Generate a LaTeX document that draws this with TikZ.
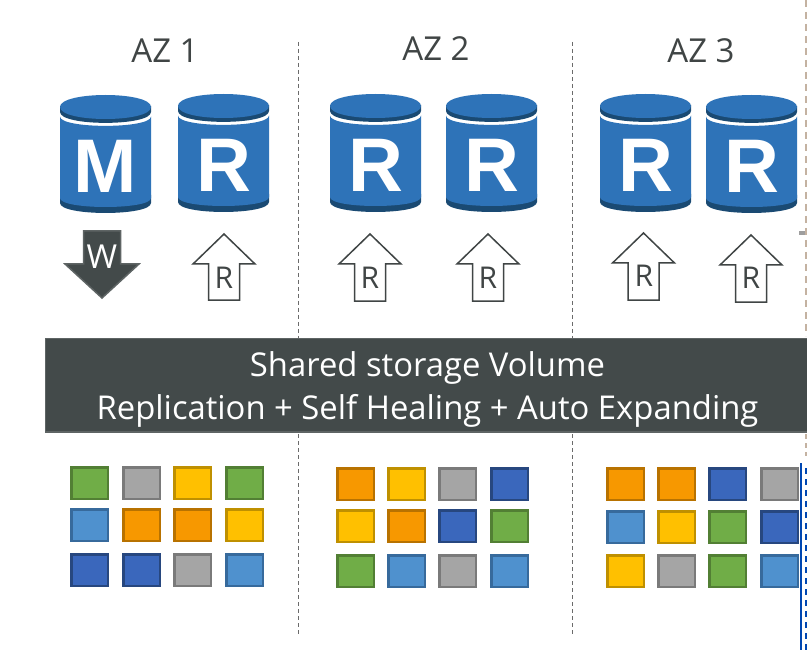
\documentclass[tikz,border=0pt]{standalone}
\usepackage{fontspec}
\setmainfont{Open Sans}
\newfontfamily\dbfont{Liberation Sans}[BoldFont={Liberation Sans Bold}]
\definecolor{dbblue}{HTML}{2E73B8}
\definecolor{dbdark}{HTML}{1A4A73}
\definecolor{slate}{HTML}{434A4A}
\definecolor{slateedge}{HTML}{5E6464}
\definecolor{labeltext}{HTML}{404545}
\tikzset{
  azlabel/.style={text=labeltext,font=\fontsize{33}{38}\selectfont,anchor=base,inner sep=0},
  dbletter/.style={text=white,font=\dbfont\bfseries\fontsize{76}{80}\selectfont,anchor=base,inner sep=0},
  arrowletter/.style={text=labeltext,font=\fontsize{30}{34}\selectfont,anchor=base,inner sep=0},
  azdiv/.style={draw=black!58,line width=1pt,dash pattern=on 4pt off 3pt},
  outlinearrow/.style={draw=labeltext,fill=white,line width=1.5pt,line join=miter},
  solidarrow/.style={draw=slateedge,fill=slate,line width=1.5pt,line join=miter},
  bandbox/.style={draw=slateedge,fill=slate,line width=1.5pt,minimum width=763.5pt,minimum height=93.5pt,inner sep=0},
  bandtext/.style={text=white,font=\fontsize{32.8}{43}\selectfont,align=center,inner sep=0},
  sqbox/.style={minimum width=36.5pt,minimum height=31.5pt,inner sep=0,line width=2.5pt,anchor=north west},
  sqG/.style={sqbox,fill=HG,draw=EG},
  sqA/.style={sqbox,fill=HA,draw=EA},
  sqY/.style={sqbox,fill=HY,draw=EY},
  sqO/.style={sqbox,fill=HO,draw=EO},
  sqL/.style={sqbox,fill=HL,draw=EL},
  sqD/.style={sqbox,fill=HD,draw=ED},
}
\definecolor{HG}{HTML}{70AD47}\definecolor{EG}{HTML}{527F34}
\definecolor{HA}{HTML}{A5A5A5}\definecolor{EA}{HTML}{7A7A7A}
\definecolor{HY}{HTML}{FFC000}\definecolor{EY}{HTML}{BF9000}
\definecolor{HO}{HTML}{F79800}\definecolor{EO}{HTML}{B87200}
\definecolor{HL}{HTML}{4F91CE}\definecolor{EL}{HTML}{376A9C}
\definecolor{HD}{HTML}{3A67BC}\definecolor{ED}{HTML}{27477F}
% name, left x, top y, letter
\newcommand{\dbcyl}[4]{%
  \begin{scope}[shift={(#2,#3)}]
    \fill[dbdark] (0,100) -- (0,108) .. controls (0,121.3) and (91,121.3) .. (91,108) -- (91,100) -- cycle;
    \fill[dbblue] (0,21.5) .. controls (0,34) and (91,34) .. (91,21.5) -- (91,103) .. controls (91,115) and (0,115) .. (0,103) -- cycle;
    \fill[dbdark] (0,11) -- (0,17) .. controls (0,31.5) and (91,31.5) .. (91,17) -- (91,11) -- cycle;
    \fill[dbblue] (0,12) .. controls (0,-4) and (91,-4) .. (91,12) .. controls (91,28) and (0,28) .. (0,12) -- cycle;
    \node[dbletter] (#1) at (45.5,98) {#4};
  \end{scope}}
% name, tip x, tip y, bottom y, letter centre x, letter baseline
\newcommand{\readarrow}[6]{%
  \draw[outlinearrow] (#2,#3) -- (#2+31,#3+30) -- (#2+15.5,#3+30) -- (#2+15.5,#4)
    -- (#2-15.5,#4) -- (#2-15.5,#3+30) -- (#2-31,#3+30) -- cycle;
  \node[arrowletter] (#1) at (#5,#6) {R};}
\begin{document}
\begin{tikzpicture}[x=1pt,y=-1pt]
\useasboundingbox (0,0) rectangle (807,650);
\fill[white] (0,0) rectangle (807,650);

% zone dividers
\coordinate (d1a) at (298.5,42);  \coordinate (d1b) at (298.5,636);
\coordinate (d2a) at (572.7,42);  \coordinate (d2b) at (572.7,636);
\draw[azdiv] (d1a) -- (d1b);
\draw[azdiv] (d2a) -- (d2b);

% headings
\node[azlabel] (az1) at (165,63) {AZ 1};
\node[azlabel] (az2) at (436,61) {AZ 2};
\node[azlabel] (az3) at (701,63) {AZ 3};

% databases
\dbcyl{m1}{60}{95}{M}
\dbcyl{r1}{178}{94}{R}
\dbcyl{r2}{330}{94}{R}
\dbcyl{r3}{446}{94}{R}
\dbcyl{r4}{600}{94}{R}
\dbcyl{r5}{706}{95}{R}

% write arrow
\draw[solidarrow] (102,298) -- (65,264) -- (83.5,264) -- (83.5,231) -- (120.5,231) -- (120.5,264) -- (139,264) -- cycle;
\node[arrowletter,text=white,font=\fontsize{33}{36}\selectfont] (w) at (102,269) {W};

% read arrows
\readarrow{a1}{224}{234}{300}{224}{288}
\readarrow{a2}{370}{234}{301}{370}{288}
\readarrow{a3}{488}{234}{301}{488}{288}
\readarrow{a4}{643.5}{233}{300}{644}{287}
\readarrow{a5}{751}{235}{302}{751}{288}

% band
\node[bandbox] (band) at (427.25,385.25) {};
\node[bandtext] (bandlabel) at (427.5,389) {Shared storage Volume\\Replication + Self Healing + Auto Expanding};

% storage blocks
\foreach \nm/\px/\py/\kd in {
  b1/70/466/G,b2/122/466/A,b3/173/466/Y,b4/225/466/G,
  b5/70/508/L,b6/122/508/O,b7/173/508/O,b8/225/508/Y,
  b9/70/553/D,b10/122/553/D,b11/173/553/A,b12/225/553/L,
  c1/336/467/O,c2/387/467/Y,c3/438/467/A,c4/490/467/D,
  c5/336/509/Y,c6/387/509/O,c7/438/509/D,c8/490/509/G,
  c9/336/554/G,c10/387/554/L,c11/438/554/A,c12/490/554/L,
  e1/606/467/O,e2/657/467/O,e3/708/467/D,e4/760/467/A,
  e5/606/510/L,e6/657/510/Y,e7/708/510/G,e8/760/510/D,
  e9/606/554/Y,e10/657/554/A,e11/708/554/G,e12/760/554/L}{
  \node[sq\kd] (\nm) at (\px,\py) {};
}

% clipped fragments at the right edge
\fill[black!38] (799,231) rectangle (807,235);
\draw[draw=brown!45!gray!60,line width=2pt,dash pattern=on 7pt off 5pt] (806.2,0) -- (806.2,336);
\draw[draw=brown!45!gray!60,line width=2pt,dash pattern=on 5pt off 4pt] (806.2,434) -- (806.2,456);
\fill[blue!60!cyan!70!black] (799.5,463) rectangle (801.5,650);
\draw[draw=blue!60!cyan!70!black,line width=2pt,dash pattern=on 6pt off 5pt] (806,468) -- (806,650);
\end{tikzpicture}
\end{document}
